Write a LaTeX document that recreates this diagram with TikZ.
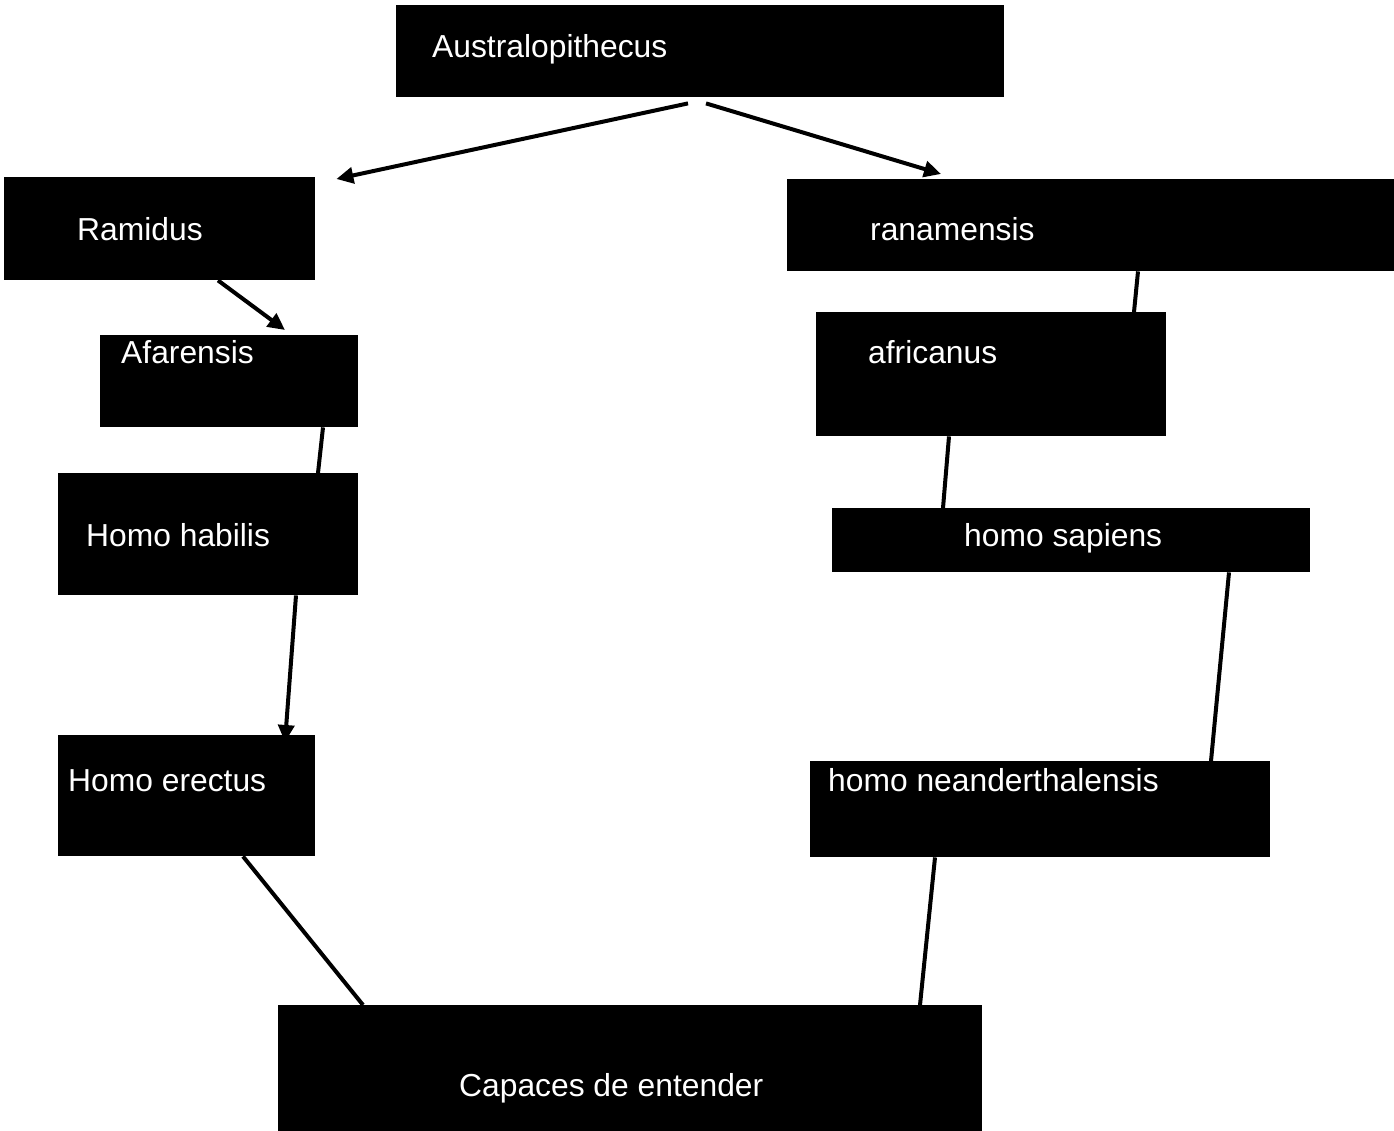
\documentclass[tikz,border=0pt]{standalone}
\usepackage{fontspec}
\setmainfont{Liberation Sans}
\usetikzlibrary{arrows.meta}
\begin{document}
\begin{tikzpicture}[x=1pt,y=-1pt,
  box/.style={fill=black, draw=none, anchor=north west, inner sep=0pt},
  lbl/.style={text=white, anchor=base west, inner sep=0pt, font=\fontsize{31.8}{36}\selectfont},
  conn/.style={line width=4pt, draw=black},
  arr/.style={conn, -{Triangle[length=17pt,width=16pt]}}]
\useasboundingbox (0,0) rectangle (1394,1131);
\node[box, minimum width=608, minimum height=92] (aus) at (396,5) {};
\node[box, minimum width=311, minimum height=103] (ram) at (4,177) {};
\node[box, minimum width=607, minimum height=92] (ran) at (787,179) {};
\node[box, minimum width=258, minimum height=92] (afa) at (100,335) {};
\node[box, minimum width=350, minimum height=124] (afr) at (816,312) {};
\node[box, minimum width=300, minimum height=122] (hab) at (58,473) {};
\node[box, minimum width=478, minimum height=64] (sap) at (832,508) {};
\node[box, minimum width=257, minimum height=121] (ere) at (58,735) {};
\node[box, minimum width=460, minimum height=96] (nea) at (810,761) {};
\node[box, minimum width=704, minimum height=126] (cap) at (278,1005) {};
\node[lbl] (aust) at (432,58) {Australopithecus};
\node[lbl] (ramt) at (77,241) {Ramidus};
\node[lbl] (rant) at (870,241) {ranamensis};
\node[lbl] (afat) at (121,363) {Afarensis};
\node[lbl] (afrt) at (868,363) {africanus};
\node[lbl] (habt) at (86,546) {Homo habilis};
\node[lbl] (sapt) at (964,546) {homo sapiens};
\node[lbl] (eret) at (68,791) {Homo erectus};
\node[lbl] (neat) at (828,791) {homo neanderthalensis};
\node[lbl] (capt) at (459,1096) {Capaces de entender};
\draw[arr] ([xshift=292pt,yshift=-6pt]aus.south west) -- ([xshift=21pt,yshift=-2pt]ram.north east);
\draw[arr] ([xshift=310pt,yshift=-6pt]aus.south west) -- ([xshift=154pt,yshift=5pt]ran.north west);
\draw[arr] ([xshift=214pt]ram.south west) -- ([xshift=185pt,yshift=5pt]afa.north west);
\draw[conn] ([xshift=223pt]afa.south west) -- ([xshift=260pt]hab.north west);
\draw[arr] ([xshift=238pt]hab.south west) -- ([xshift=227pt,yshift=-7pt]ere.north west);
\draw[conn] ([xshift=351pt]ran.south west) -- ([xshift=318pt]afr.north west);
\draw[conn] ([xshift=133pt]afr.south west) -- ([xshift=111pt]sap.north west);
\draw[conn] ([xshift=397pt]sap.south west) -- ([xshift=401pt]nea.north west);
\draw[conn] ([xshift=185pt]ere.south west) -- ([xshift=85pt]cap.north west);
\draw[conn] ([xshift=125pt]nea.south west) -- ([xshift=642pt]cap.north west);
\end{tikzpicture}
\end{document}
